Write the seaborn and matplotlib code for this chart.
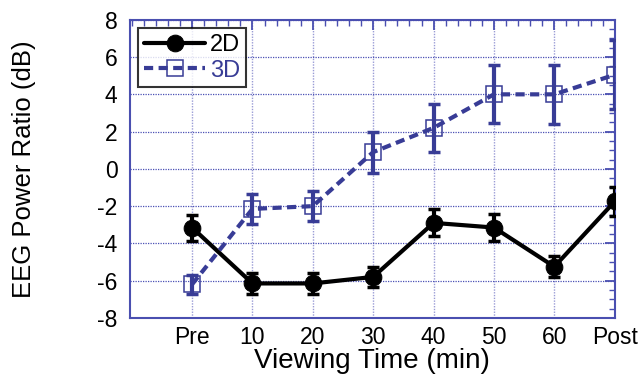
import numpy as np
import pandas as pd
import matplotlib
matplotlib.use("Agg")
import matplotlib.pyplot as plt
import seaborn as sns
from matplotlib.ticker import MultipleLocator, AutoMinorLocator

categories = ["Pre", "10", "20", "30", "40", "50", "60", "Post"]
vals_2d = [-3.15, -6.15, -6.15, -5.8, -2.9, -3.15, -5.25, -1.75]
err_2d = [0.7, 0.55, 0.55, 0.55, 0.72, 0.72, 0.55, 0.8]
vals_3d = [-6.2, -2.15, -2.0, 0.9, 2.2, 4.0, 4.0, 5.05]
err_3d = [0.5, 0.8, 0.8, 1.1, 1.3, 1.55, 1.6, 1.85]

sns.set_theme(style="white")
plt.rcParams["font.family"] = ["Liberation Sans", "DejaVu Sans"]
plt.rcParams["axes.unicode_minus"] = False
plt.rcParams["text.color"] = "black"
plt.rcParams["axes.labelcolor"] = "black"

blue = "#383c96"
spine_blue = "#4a4fb0"

pos = np.arange(len(categories))
df = pd.DataFrame({
    "pos": np.concatenate([pos, pos]),
    "val": vals_2d + vals_3d,
    "cond": ["2D"] * len(pos) + ["3D"] * len(pos),
})

fig = plt.figure(figsize=(6.43, 3.74), dpi=100)
ax = fig.add_axes([0.202, 0.150, 0.754, 0.797])

ax.errorbar(pos, vals_2d, yerr=err_2d, fmt="none", ecolor="black",
            elinewidth=3, capsize=4, capthick=2.5, zorder=3)
ax.errorbar(pos, vals_3d, yerr=err_3d, fmt="none", ecolor=blue,
            elinewidth=3, capsize=4, capthick=2.5, zorder=3)

sns.lineplot(data=df[df.cond == "2D"], x="pos", y="val", ax=ax, color="black",
             lw=3, marker="o", markersize=12, markerfacecolor="black",
             markeredgecolor="black", label="2D", zorder=4)
sns.lineplot(data=df[df.cond == "3D"], x="pos", y="val", ax=ax, color=blue,
             lw=3, linestyle=(0, (2.2, 1.3)), marker="s", markersize=11,
             markerfacecolor="none", markeredgecolor=blue, markeredgewidth=1.1,
             label="3D", zorder=4)

ax.set_xlim(-1.03, 7)
ax.set_ylim(-8, 8)
ax.set_xticks(pos)
ax.set_xticklabels(categories)
ax.yaxis.set_major_locator(MultipleLocator(2))
ax.yaxis.set_minor_locator(AutoMinorLocator(4))
ax.xaxis.set_minor_locator(AutoMinorLocator(5))

ax.grid(True, which="major", axis="y", color="#4b50b5", linestyle=(0, (1, 1)), lw=0.9)
ax.grid(True, which="major", axis="x", color="#9a9cd6", linestyle=(0, (1, 1)), lw=1.0)

for s in ax.spines.values():
    s.set_color(spine_blue)
    s.set_linewidth(1.5)

ax.tick_params(which="both", direction="in", top=True, right=True, colors=spine_blue,
               labelcolor="black", labelsize=16.5)
ax.tick_params(which="major", length=7, width=1.3)
ax.tick_params(which="minor", length=4, width=1.0)
ax.tick_params(axis="x", pad=6)
ax.tick_params(axis="y", pad=9)

ax.set_xlabel("Viewing Time (min)", fontsize=20, labelpad=-1, color="black")
ax.set_ylabel("EEG Power Ratio (dB)", fontsize=18.5, labelpad=44, color="black")

leg = ax.legend(loc="upper left", fontsize=17, frameon=True, fancybox=False,
                edgecolor="black", handlelength=2.6, borderpad=0.25,
                labelspacing=0.15, handletextpad=0.2, borderaxespad=0.35)
leg.get_frame().set_linewidth(1.5)
leg.get_texts()[0].set_color("black")
leg.get_texts()[1].set_color(blue)

fig.savefig("out.png", dpi=100)
